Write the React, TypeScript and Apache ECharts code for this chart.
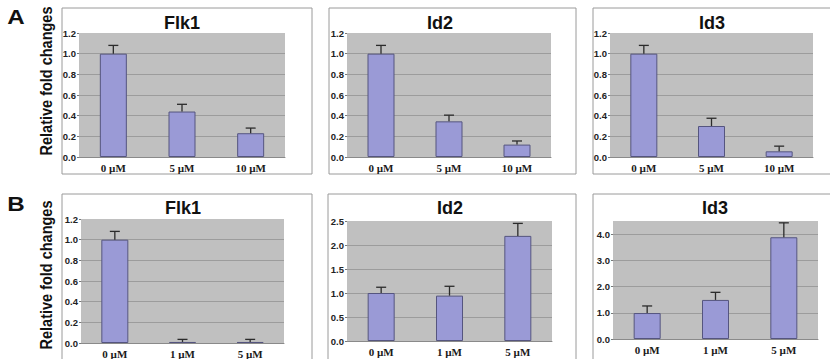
import React, { useEffect, useRef } from "react";
import * as echarts from "echarts";

const rowATitles = ["Flk1", "Id2", "Id3"];
const rowBTitles = ["Flk1", "Id2", "Id3"];
const catsA = ["0 µM", "5 µM", "10 µM"];
const catsB = ["0 µM", "1 µM", "5 µM"];

const aFlk1 = [1.0, 0.44, 0.23];
const aFlk1Top = [1.08, 0.51, 0.28];
const aId2 = [1.0, 0.345, 0.12];
const aId2Top = [1.08, 0.405, 0.155];
const aId3 = [1.0, 0.30, 0.055];
const aId3Top = [1.08, 0.375, 0.105];

const bFlk1 = [1.0, 0.01, 0.01];
const bFlk1Top = [1.08, 0.035, 0.035];
const bId2 = [1.0, 0.945, 2.19];
const bId2Top = [1.12, 1.14, 2.45];
const bId3 = [0.99, 1.49, 3.88];
const bId3Top = [1.26, 1.78, 4.43];

const yMaxA = 1.2;
const yStepA = 0.2;
const yMaxB = [1.2, 2.5, 4.5];
const yStepB = [0.2, 0.5, 1];

const panelLetters = ["A", "B"];
const yAxisTitle = "Relative fold changes";

export default function App() {
  const ref = useRef<HTMLDivElement>(null);
  useEffect(() => {
    document.body.style.margin = "0";
    const chart = echarts.init(ref.current!, undefined, { renderer: "svg" });

    const panels = [
      { title: rowATitles[0], cats: catsA, v: aFlk1, t: aFlk1Top, max: yMaxA, step: yStepA, grid: [79, 33, 206, 124], tx: 182, ty: 23 },
      { title: rowATitles[1], cats: catsA, v: aId2, t: aId2Top, max: yMaxA, step: yStepA, grid: [347, 33, 204, 124], tx: 440, ty: 23 },
      { title: rowATitles[2], cats: catsA, v: aId3, t: aId3Top, max: yMaxA, step: yStepA, grid: [610, 33, 203, 124], tx: 712, ty: 23 },
      { title: rowBTitles[0], cats: catsB, v: bFlk1, t: bFlk1Top, max: yMaxB[0], step: yStepB[0], grid: [81, 219, 203, 124], tx: 183, ty: 208 },
      { title: rowBTitles[1], cats: catsB, v: bId2, t: bId2Top, max: yMaxB[1], step: yStepB[1], grid: [347, 221, 205, 120], tx: 450, ty: 208 },
      { title: rowBTitles[2], cats: catsB, v: bId3, t: bId3Top, max: yMaxB[2], step: yStepB[2], grid: [613, 221, 205, 118], tx: 715, ty: 208 },
    ];

    const boxes = [
      [62, 8, 250, 166],
      [329, 8, 247, 166],
      [593, 8, 260, 166],
      [62, 194, 250, 190],
      [328, 194, 248, 190],
      [593, 194, 260, 190],
    ];

    const grids = panels.map((p) => ({
      left: p.grid[0],
      top: p.grid[1],
      width: p.grid[2],
      height: p.grid[3],
      show: true,
      backgroundColor: "#c0c0c0",
      borderWidth: 0,
      containLabel: false,
    }));

    const xAxes = panels.map((p, i) => ({
      type: "category",
      gridIndex: i,
      data: p.cats,
      axisLine: { show: true, lineStyle: { color: "#8a8a8a", width: 1 } },
      axisTick: { show: false },
      axisLabel: {
        color: "#1a1a1a",
        fontFamily: "Liberation Serif, Times New Roman, serif",
        fontWeight: "bold",
        fontSize: 11,
        margin: 5,
      },
    }));

    const yAxes = panels.map((p, i) => ({
      type: "value",
      gridIndex: i,
      min: 0,
      max: p.max,
      interval: p.step,
      axisLine: { show: false },
      axisTick: { show: true, length: 2, lineStyle: { color: "#777" } },
      splitLine: { show: true, showMaxLine: false, lineStyle: { color: "#9c9c9c", width: 1 } },
      axisLabel: {
        color: "#222",
        fontFamily: "Liberation Sans, Arial, sans-serif",
        fontWeight: "bold",
        fontSize: 9.5,
        margin: 3,
        showMaxLabel: p.max % p.step < 1e-9 || Math.abs((p.max % p.step) - p.step) < 1e-9,
        formatter: (val: number) => {
          const r = Math.round(val / p.step) * p.step;
          return Math.abs(r - val) < 1e-9 ? val.toFixed(1) : "";
        },
      },
    }));

    const series: any[] = [];
    panels.forEach((p, i) => {
      series.push({
        type: "bar",
        xAxisIndex: i,
        yAxisIndex: i,
        data: p.v,
        barWidth: 27,
        itemStyle: { color: "#9a9ad6", borderColor: "#55557f", borderWidth: 1 },
        z: 2,
      });
      series.push({
        type: "custom",
        xAxisIndex: i,
        yAxisIndex: i,
        z: 3,
        data: p.v.map((v, k) => [k, v, p.t[k]]),
        renderItem: (params: any, api: any) => {
          const base = api.coord([api.value(0), api.value(1)]);
          const top = api.coord([api.value(0), api.value(2)]);
          const half = 5;
          const style = { stroke: "#2b2b2b", lineWidth: 1.3 };
          return {
            type: "group",
            children: [
              { type: "line", shape: { x1: base[0], y1: base[1], x2: base[0], y2: top[1] }, style },
              { type: "line", shape: { x1: base[0] - half, y1: top[1], x2: base[0] + half, y2: top[1] }, style },
            ],
          };
        },
      });
    });

    const graphics: any[] = boxes.map((b) => ({
      type: "rect",
      z: -10,
      shape: { x: b[0], y: b[1], width: b[2], height: b[3] },
      style: { fill: "#ffffff", stroke: "#9a9a9a", lineWidth: 1 },
    }));
    panels.forEach((p) => {
      graphics.push({
        type: "text",
        x: p.tx,
        y: p.ty,
        z: 5,
        style: {
          text: p.title,
          fill: "#111",
          font: "bold 18px Liberation Sans, Arial, sans-serif",
          textAlign: "center",
          textVerticalAlign: "middle",
        },
      });
    });
    graphics.push(
      {
        type: "text", x: 16, y: 17, z: 5, scaleX: 1.15,
        style: { text: panelLetters[0], fill: "#111", font: "bold 21px Liberation Sans, Arial, sans-serif", textAlign: "center", textVerticalAlign: "middle" },
      },
      {
        type: "text", x: 16, y: 204, z: 5, scaleX: 1.15,
        style: { text: panelLetters[1], fill: "#111", font: "bold 21px Liberation Sans, Arial, sans-serif", textAlign: "center", textVerticalAlign: "middle" },
      },
      {
        type: "text", x: 46, y: 81, rotation: Math.PI / 2, z: 5, scaleY: 1.15,
        style: { text: yAxisTitle, fill: "#111", font: "bold 14.5px Liberation Sans, Arial, sans-serif", textAlign: "center", textVerticalAlign: "middle" },
      },
      {
        type: "text", x: 46, y: 275, rotation: Math.PI / 2, z: 5, scaleY: 1.15,
        style: { text: yAxisTitle, fill: "#111", font: "bold 14.5px Liberation Sans, Arial, sans-serif", textAlign: "center", textVerticalAlign: "middle" },
      }
    );

    chart.setOption({
      animation: false,
      backgroundColor: "#ffffff",
      grid: grids,
      xAxis: xAxes,
      yAxis: yAxes,
      series,
      graphic: { elements: graphics },
    });
    return () => chart.dispose();
  }, []);
  return <div ref={ref} style={{ width: 830, height: 359 }} />;
}
